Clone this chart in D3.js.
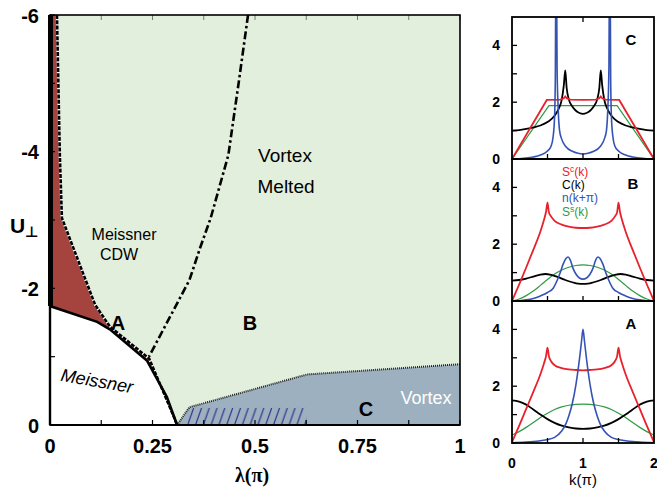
<!DOCTYPE html>
<html><head><meta charset="utf-8">
<script src="https://cdn.jsdelivr.net/npm/d3@7"></script>
<style>body{margin:0;background:#fff}svg{display:block}text{font-family:"Liberation Sans",Arial,sans-serif}</style>
</head><body><svg id="c" width="657" height="490"></svg>
<script>
// ---------- Phase diagram data (lambda in units of pi, U_perp) ----------
const lambdaTicks = [0, 0.25, 0.5, 0.75, 1];
const lambdaTickLabels = ["0", "0.25", "0.5", "0.75", "1"];
const uTicks = [-6, -4, -2, 0];
const uTickLabels = ["-6", "-4", "-2", "0"];
const meissnerBoundary = [[0,-1.74],[0.115,-1.51],[0.146,-1.40],[0.237,-0.94],[0.285,-0.41],[0.31,0]];
const cdwBoundary = [[0.017,-6],[0.024,-3.95],[0.029,-3.03],[0.11,-1.76],[0.146,-1.44],[0.242,-0.97],[0.30,-0.15],[0.31,0]];
const meltBoundary = [[0.483,-6],[0.46,-5],[0.435,-3.95],[0.392,-3.03],[0.366,-2.59],[0.34,-2.12],[0.237,-0.95]];
const vortexBoundary = [[0.31,0],[0.34,-0.26],[0.627,-0.74],[1,-0.89]];
const hatchRange = [0.335, 0.625, -0.25];

// ---------- Structure factor panels (k in units of pi) ----------
const kTicks = [0, 1, 2];
const yTicks = [0, 2, 4];
const seriesNames = ["Sc", "C", "n", "Ss"];
const legendLabels = [["S","c","(k)"],["C(k)","",""],["n(k+π)","",""],["S","s","(k)"]];
const panelNames = ["C", "B", "A"];

const cRed = [[0,0],[0.49,2.08],[0.68,2.09],[0.73,2.14],[0.75,2.2],[0.77,2.14],[0.82,2.09],[1,2.08],[1.18,2.09],[1.23,2.14],[1.25,2.2],[1.27,2.14],[1.32,2.09],[1.51,2.08],[2,0]];
const cGreen = [[0,0],[0.52,1.88],[1.48,1.88],[2,0]];
const cBlack = [[0,1.0],[0.1,1.02],[0.2,1.06],[0.3,1.11],[0.4,1.18],[0.5,1.3],[0.6,1.52],[0.66,1.78],[0.7,2.08],[0.73,2.6],[0.75,3.12],[0.77,2.5],[0.8,2.1],[0.85,1.85],[0.9,1.7],[0.95,1.62],[1,1.59],[1.05,1.62],[1.1,1.7],[1.15,1.85],[1.2,2.1],[1.23,2.5],[1.25,3.12],[1.27,2.6],[1.3,2.08],[1.34,1.78],[1.4,1.52],[1.5,1.3],[1.6,1.18],[1.7,1.11],[1.8,1.06],[1.9,1.02],[2,1.0]];
const cBlue = [[0,0],[0.1,0.01],[0.2,0.03],[0.3,0.07],[0.4,0.14],[0.5,0.28],[0.55,0.45],[0.58,0.8],[0.6,1.5],[0.61,2.8],[0.617,6],[0.628,6],[0.635,3.2],[0.65,1.8],[0.67,1.0],[0.7,0.7],[0.76,0.43],[0.85,0.27],[0.93,0.2],[1,0.18],[1.07,0.2],[1.15,0.27],[1.24,0.43],[1.3,0.7],[1.33,1.0],[1.35,1.8],[1.365,3.2],[1.372,6],[1.383,6],[1.39,2.8],[1.4,1.5],[1.42,0.8],[1.45,0.45],[1.5,0.28],[1.6,0.14],[1.7,0.07],[1.8,0.03],[1.9,0.01],[2,0]];

const bRed = [[0,0],[0.1,0.58],[0.2,1.18],[0.3,1.8],[0.4,2.45],[0.45,2.85],[0.48,3.15],[0.5,3.46],[0.52,3.12],[0.55,2.98],[0.6,2.82],[0.7,2.69],[0.8,2.62],[0.9,2.58],[1,2.57],[1.1,2.58],[1.2,2.62],[1.3,2.69],[1.4,2.82],[1.45,2.98],[1.48,3.12],[1.5,3.46],[1.52,3.15],[1.55,2.85],[1.6,2.45],[1.7,1.8],[1.8,1.18],[1.9,0.58],[2,0]];
const bBlack = [[0,0.72],[0.1,0.74],[0.2,0.79],[0.3,0.86],[0.4,0.93],[0.47,0.95],[0.55,0.92],[0.65,0.84],[0.75,0.74],[0.85,0.66],[0.93,0.61],[1,0.6],[1.07,0.61],[1.15,0.66],[1.25,0.74],[1.35,0.84],[1.45,0.92],[1.53,0.95],[1.6,0.93],[1.7,0.86],[1.8,0.79],[1.9,0.74],[2,0.72]];
const bGreen = [[0,0],[0.1,0.07],[0.2,0.19],[0.3,0.35],[0.4,0.55],[0.5,0.76],[0.6,0.95],[0.7,1.09],[0.8,1.19],[0.9,1.25],[1,1.27],[1.1,1.25],[1.2,1.19],[1.3,1.09],[1.4,0.95],[1.5,0.76],[1.6,0.55],[1.7,0.35],[1.8,0.19],[1.9,0.07],[2,0]];
const bBlue = [[0,0],[0.1,0.01],[0.2,0.04],[0.3,0.09],[0.4,0.18],[0.5,0.3],[0.58,0.45],[0.64,0.75],[0.68,1.0],[0.72,1.3],[0.76,1.5],[0.79,1.55],[0.82,1.45],[0.86,1.15],[0.9,0.95],[0.95,0.81],[1,0.77],[1.05,0.81],[1.1,0.95],[1.14,1.15],[1.18,1.45],[1.21,1.55],[1.24,1.5],[1.28,1.3],[1.32,1.0],[1.36,0.75],[1.42,0.45],[1.5,0.3],[1.6,0.18],[1.7,0.09],[1.8,0.04],[1.9,0.01],[2,0]];

const aRed = [[0,0.03],[0.1,0.6],[0.2,1.2],[0.3,1.8],[0.4,2.42],[0.45,2.8],[0.48,3.07],[0.5,3.36],[0.52,3.05],[0.55,2.88],[0.6,2.74],[0.7,2.64],[0.8,2.59],[0.9,2.57],[1,2.56],[1.1,2.57],[1.2,2.59],[1.3,2.64],[1.4,2.74],[1.45,2.88],[1.48,3.05],[1.5,3.36],[1.52,3.07],[1.55,2.8],[1.6,2.42],[1.7,1.8],[1.8,1.2],[1.9,0.6],[2,0.03]];
const aBlack = [[0,1.5],[0.1,1.46],[0.2,1.35],[0.3,1.18],[0.4,1.0],[0.5,0.84],[0.6,0.71],[0.7,0.61],[0.8,0.55],[0.9,0.51],[1,0.5],[1.1,0.51],[1.2,0.55],[1.3,0.61],[1.4,0.71],[1.5,0.84],[1.6,1.0],[1.7,1.18],[1.8,1.35],[1.9,1.46],[2,1.5]];
const aGreen = [[0,0.28],[0.1,0.4],[0.2,0.55],[0.3,0.72],[0.4,0.9],[0.5,1.05],[0.6,1.18],[0.7,1.27],[0.8,1.33],[0.9,1.36],[1,1.37],[1.1,1.36],[1.2,1.33],[1.3,1.27],[1.4,1.18],[1.5,1.05],[1.6,0.9],[1.7,0.72],[1.8,0.55],[1.9,0.4],[2,0.28]];
const aBlue = [[0,0.01],[0.2,0.03],[0.3,0.05],[0.4,0.08],[0.5,0.12],[0.6,0.2],[0.7,0.42],[0.76,0.68],[0.8,0.95],[0.85,1.4],[0.9,2.05],[0.95,2.95],[0.98,3.6],[1,4.0],[1.02,3.6],[1.05,2.95],[1.1,2.05],[1.15,1.4],[1.2,0.95],[1.24,0.68],[1.3,0.42],[1.4,0.2],[1.5,0.12],[1.6,0.08],[1.7,0.05],[1.8,0.03],[2,0.01]];

// ---------- Drawing ----------
const svg = d3.select("#c");
const x = d3.scaleLinear().domain([0,1]).range([50,460]);
const y = d3.scaleLinear().domain([-6,0]).range([15,425]);
const line = d3.line().x(d=>x(d[0])).y(d=>y(d[1]));

const defs = svg.append("defs");
defs.append("clipPath").attr("id","mainClip").append("rect").attr("x",50).attr("y",15).attr("width",410).attr("height",410);
const pat = defs.append("pattern").attr("id","hatch").attr("patternUnits","userSpaceOnUse")
  .attr("x",0).attr("y",y(hatchRange[2])).attr("width",7.8).attr("height",y(0)-y(hatchRange[2]));
pat.append("line").attr("x1",0.5).attr("y1",y(0)-y(hatchRange[2])).attr("x2",6.5).attr("y2",0)
  .attr("stroke","#2b2a86").attr("stroke-width",1.1);

const g = svg.append("g").attr("clip-path","url(#mainClip)");
g.append("rect").attr("x",x(0)).attr("y",y(-6)).attr("width",x(1)-x(0)).attr("height",y(0)-y(-6)).attr("fill","#e3efdd");
// red CDW region
const redPoly = cdwBoundary.concat(meissnerBoundary.slice().reverse(), [[0,-6]]);
g.append("path").attr("d", line(redPoly)+"Z").attr("fill","#a5433e");
// white Meissner region
g.append("path").attr("d", line(meissnerBoundary.concat([[0,0]]))+"Z").attr("fill","#fff");
// vortex region
g.append("path").attr("d", line(vortexBoundary.concat([[1,0]]))+"Z").attr("fill","#9cb0c0");
// hatch, clipped below the vortex boundary
defs.append("clipPath").attr("id","hatchClip").append("path").attr("d", line(vortexBoundary.concat([[1,0]]))+"Z");
g.append("rect").attr("clip-path","url(#hatchClip)")
  .attr("x",x(hatchRange[0])).attr("y",y(hatchRange[2])).attr("width",x(hatchRange[1])-x(hatchRange[0])).attr("height",y(0)-y(hatchRange[2]))
  .attr("fill","url(#hatch)");
// boundaries
g.append("path").attr("d", line(meltBoundary)).attr("fill","none").attr("stroke","#000").attr("stroke-width",2.6).attr("stroke-dasharray","8,3,2.5,3");
g.append("path").attr("d", line(cdwBoundary)).attr("fill","none").attr("stroke","#fff").attr("stroke-width",2.6);
g.append("path").attr("d", line(cdwBoundary)).attr("fill","none").attr("stroke","#000").attr("stroke-width",2.6).attr("stroke-dasharray","4,1.3");
g.append("path").attr("d", line(meissnerBoundary)).attr("fill","none").attr("stroke","#000").attr("stroke-width",2.6);
g.append("path").attr("d", line(vortexBoundary)).attr("fill","none").attr("stroke","#222").attr("stroke-width",2).attr("stroke-dasharray","1,1");

// ticks (inward)
const minorL = d3.range(0,1.0001,0.125), minorU = d3.range(-6,0.001,1);
svg.append("g").selectAll("line.bt").data(minorL).join("line").attr("x1",d=>x(d)).attr("x2",d=>x(d)).attr("y1",y(0)).attr("y2",y(0)-5).attr("stroke","#000").attr("stroke-width",1.2);
svg.append("g").selectAll("line.tt").data(minorL).join("line").attr("x1",d=>x(d)).attr("x2",d=>x(d)).attr("y1",y(-6)).attr("y2",y(-6)+5).attr("stroke","#777").attr("stroke-width",1);
svg.append("g").selectAll("line.lt").data(minorU).join("line").attr("x1",x(0)).attr("x2",x(0)+5).attr("y1",d=>y(d)).attr("y2",d=>y(d)).attr("stroke","#000").attr("stroke-width",1.2);

// frame
svg.append("rect").attr("x",x(0)).attr("y",y(-6)).attr("width",x(1)-x(0)).attr("height",y(0)-y(-6)).attr("fill","none").attr("stroke","#000").attr("stroke-width",1.6);
svg.append("line").attr("x1",x(0)+0.5).attr("x2",x(0)+0.5).attr("y1",y(-6)).attr("y2",y(meissnerBoundary[0][1])).attr("stroke","#000").attr("stroke-width",5);
svg.append("line").attr("x1",x(0)).attr("x2",x(0)).attr("y1",y(meissnerBoundary[0][1])).attr("y2",y(0)).attr("stroke","#000").attr("stroke-width",2.4);
svg.append("line").attr("x1",x(0)).attr("x2",x(1)).attr("y1",y(0)).attr("y2",y(0)).attr("stroke","#000").attr("stroke-width",2.2);

// tick labels
svg.append("g").selectAll("text").data(lambdaTicks).join("text").attr("x",d=>x(d)).attr("y",453)
  .attr("text-anchor","middle").attr("font-size",20).attr("font-weight","bold").text((d,i)=>lambdaTickLabels[i]);
svg.append("g").selectAll("text").data(uTicks).join("text").attr("x",39).attr("y",d=>y(d)+7.5)
  .attr("text-anchor","end").attr("font-size",20).attr("font-weight","bold").text((d,i)=>uTickLabels[i]);
svg.append("text").attr("x",252).attr("y",482).attr("text-anchor","middle").attr("font-size",20).attr("font-weight","bold")
  .style("font-family","'Liberation Serif',serif").text("λ(π)");
svg.append("text").attr("x",10).attr("y",233).attr("font-size",21).attr("font-weight","bold").text("U");
svg.append("text").attr("x",25).attr("y",237).attr("font-size",15).attr("font-weight","bold").style("font-family","'DejaVu Sans',sans-serif").text("⊥");

// region texts
const txt = (s,px,py,size,opts={}) => svg.append("text").attr("x",px).attr("y",py).attr("font-size",size)
  .attr("text-anchor",opts.anchor||"middle").attr("font-weight",opts.bold?"bold":"normal").attr("fill",opts.fill||"#000")
  .attr("font-style",opts.italic?"italic":"normal").attr("transform",opts.rot?`rotate(${opts.rot},${px},${py})`:null).text(s);
txt("Vortex",285,162,19);
txt("Melted",286,193,19);
txt("Meissner",124,240,16);
txt("CDW",119,260,16);
txt("A",118,330,20,{bold:true});
txt("B",250,330,20,{bold:true});
txt("C",366,416,20,{bold:true});
txt("Vortex",426,404,18,{fill:"#fff"});
txt("Meissner",96,387,18,{italic:true,rot:10});

// ---------- right panels ----------
const kx = d3.scaleLinear().domain([0,2]).range([512,654]);
const panels = [
  {name:"C", top:17, bottom:159, data:[cRed,cBlack,cBlue,cGreen], labelY:45, labelX:631},
  {name:"B", top:159, bottom:301, data:[bRed,bBlack,bBlue,bGreen], labelY:189, labelX:633},
  {name:"A", top:301, bottom:443, data:[aRed,aBlack,aBlue,aGreen], labelY:329, labelX:631}
];
const colors = ["#e8222c","#000000","#3553b3","#2e9a44"];
const widths = [1.8,1.8,1.6,1.2];
panels.forEach((p,pi)=>{
  const ky = d3.scaleLinear().domain([0,5]).range([p.bottom,p.top]);
  const id = "pc"+pi;
  defs.append("clipPath").attr("id",id).append("rect").attr("x",kx(0)).attr("y",p.top).attr("width",kx(2)-kx(0)).attr("height",p.bottom-p.top);
  const pg = svg.append("g").attr("clip-path",`url(#${id})`);
  const kl = d3.line().x(d=>kx(d[0])).y(d=>ky(d[1])).curve(d3.curveMonotoneX);
  const order = [3,1,0,2];
  order.forEach(si=>{
    const isTrap = (p.name==="C" && (si===0||si===3));
    pg.append("path").attr("d", (isTrap? kl.curve(d3.curveLinear) : kl.curve(d3.curveMonotoneX))(p.data[si]))
      .attr("fill","none").attr("stroke",colors[si]).attr("stroke-width",widths[si]);
  });
  // ticks
  svg.append("g").selectAll("line").data(d3.range(0,5,1)).join("line").attr("x1",kx(0)).attr("x2",kx(0)+5)
    .attr("y1",d=>ky(d)).attr("y2",d=>ky(d)).attr("stroke","#000").attr("stroke-width",1.3);
  svg.append("g").selectAll("line").data([0.5,1,1.5]).join("line").attr("x1",d=>kx(d)).attr("x2",d=>kx(d))
    .attr("y1",p.bottom).attr("y2",p.bottom-5).attr("stroke","#000").attr("stroke-width",1.3);
  if(p.name==="C") svg.append("line").attr("x1",kx(1)).attr("x2",kx(1)).attr("y1",p.top).attr("y2",p.top+5).attr("stroke","#000").attr("stroke-width",1.3);
  svg.append("rect").attr("x",kx(0)).attr("y",p.top).attr("width",kx(2)-kx(0)).attr("height",p.bottom-p.top)
    .attr("fill","none").attr("stroke","#000").attr("stroke-width",1.8);
  svg.append("g").selectAll("text").data(yTicks).join("text").attr("x",500).attr("y",d=>ky(d)+5)
    .attr("text-anchor","end").attr("font-size",14).attr("font-weight","bold").text(d=>d);
  svg.append("text").attr("x",p.labelX).attr("y",p.labelY).attr("text-anchor","middle").attr("font-size",15).attr("font-weight","bold").text(p.name);
});
// legend in panel B
const legY = [176,189,202,216];
legendLabels.forEach((l,i)=>{
  const t = svg.append("text").attr("x",562).attr("y",legY[i]).attr("font-size",12).attr("fill",colors[i]);
  t.append("tspan").text(l[0]);
  if(l[1]){ t.append("tspan").attr("font-size",8.5).attr("dy",-4).text(l[1]); t.append("tspan").attr("dy",4).text(l[2]); }
});
svg.append("g").selectAll("text").data(kTicks).join("text").attr("x",d=>kx(d)).attr("y",468)
  .attr("text-anchor","middle").attr("font-size",14).attr("font-weight","bold").text(d=>d);
svg.append("text").attr("x",583).attr("y",485).attr("text-anchor","middle").attr("font-size",15).text("k(π)");
</script></body></html>
